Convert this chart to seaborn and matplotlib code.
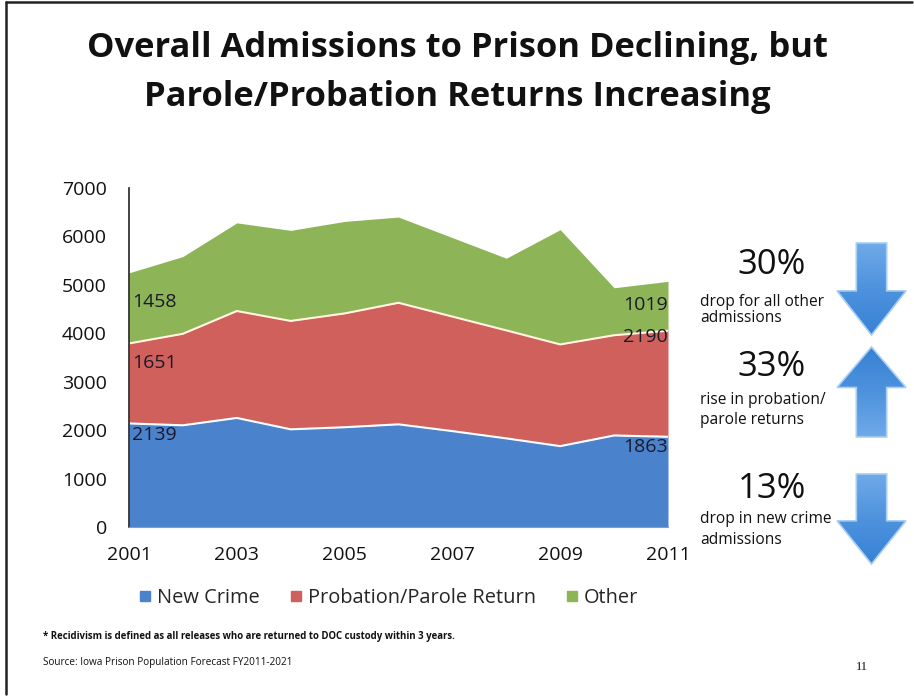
import matplotlib
matplotlib.use("Agg")
import matplotlib.pyplot as plt
import seaborn as sns
import pandas as pd
import numpy as np
from matplotlib.patches import Polygon
from matplotlib.lines import Line2D
from matplotlib.colors import LinearSegmentedColormap

years = [2001, 2002, 2003, 2004, 2005, 2006, 2007, 2008, 2009, 2010, 2011]
new_crime = [2139, 2100, 2252, 2017, 2060, 2120, 1980, 1830, 1670, 1890, 1863]
parole_return = [1651, 1890, 2208, 2238, 2350, 2510, 2365, 2230, 2100, 2070, 2190]
other = [1458, 1595, 1820, 1870, 1900, 1770, 1630, 1490, 2370, 980, 1019]
series_names = ["New Crime", "Probation/Parole Return", "Other"]
colors = ["#4A82CC", "#D0605C", "#8DB457"]
x_ticks = [2001, 2003, 2005, 2007, 2009, 2011]
y_ticks = [0, 1000, 2000, 3000, 4000, 5000, 6000, 7000]

sns.set_theme(style="white")
plt.rcParams['font.family'] = ['Open Sans', 'DejaVu Sans']

df = pd.DataFrame({"year": years, "New Crime": new_crime,
                   "Probation/Parole Return": parole_return, "Other": other})

W, H = 914, 696
def fx(px):
    return px / W
def fy(py):
    return 1 - py / H

fig = plt.figure(figsize=(9.14, 6.96), dpi=100)
ax = fig.add_axes([fx(129), fy(527), (668 - 129) / W, (527 - 188) / H])

ax.stackplot(df["year"], df["New Crime"], df["Probation/Parole Return"], df["Other"],
             colors=colors, linewidth=0)
cum1 = df["New Crime"]
cum2 = cum1 + df["Probation/Parole Return"]
sns.lineplot(x=df["year"], y=cum1, ax=ax, color="white", linewidth=1.5)
sns.lineplot(x=df["year"], y=cum2, ax=ax, color="#FFF5E0", linewidth=1.5)

ax.set_xlim(2001, 2011)
ax.set_ylim(0, 7000)
ax.set_xticks(x_ticks)
ax.set_yticks(y_ticks)
ax.set_xlabel("")
ax.set_ylabel("")
ax.tick_params(axis='both', labelsize=14, colors="#111111", length=0)
ax.tick_params(axis='y', pad=16)
ax.tick_params(axis='x', pad=14)
for s in ["top", "right"]:
    ax.spines[s].set_visible(False)
ax.spines["left"].set_color("#222222")
ax.spines["left"].set_linewidth(1.2)
ax.spines["bottom"].set_color("#999999")
ax.spines["bottom"].set_linewidth(0.8)

lab_kw = dict(fontsize=14, color="#1a1a2a")
ax.text(2001.06, new_crime[0] - 230, f"{new_crime[0]}", va="center", ha="left", **lab_kw)
ax.text(2001.06, new_crime[0] + parole_return[0] - 400, f"{parole_return[0]}", va="center", ha="left", **lab_kw)
ax.text(2001.06, new_crime[0] + parole_return[0] + other[0] - 600, f"{other[0]}", va="center", ha="left", **lab_kw)
ax.text(2011.0, new_crime[-1] - 220, f"{new_crime[-1]}", va="center", ha="right", **lab_kw)
ax.text(2011.0, new_crime[-1] + parole_return[-1] - 130, f"{parole_return[-1]}", va="center", ha="right", **lab_kw)
ax.text(2011.0, new_crime[-1] + parole_return[-1] + other[-1] - 480, f"{other[-1]}", va="center", ha="right", **lab_kw)

# Title
fig.text(0.5, fy(48), "Overall Admissions to Prison Declining, but", ha="center", va="center",
         fontsize=24.8, fontweight="bold", color="#111111")
fig.text(0.5, fy(97), "Parole/Probation Returns Increasing", ha="center", va="center",
         fontsize=24.8, fontweight="bold", color="#111111")

# Legend
handles = [Line2D([0], [0], marker="s", linestyle="", markersize=7, markerfacecolor=c,
                  markeredgecolor=c) for c in colors]
fig.legend(handles, series_names, loc="center", bbox_to_anchor=(fx(386), fy(598)), ncol=3,
           frameon=False, fontsize=14.4, handletextpad=0.0, columnspacing=1.2,
           handlelength=1.2)

# Right annotations with gradient arrows (lighter shaft, darker head)
grad = np.linspace(0, 1, 256).reshape(-1, 1)
cmap = LinearSegmentedColormap.from_list("arr", ["#6FAAE8", "#4E92DD", "#3782D5"])

def arrow(x0, y0, x1, y1, up):
    w = x1 - x0
    sx0 = x0 + w * 0.28
    sx1 = x1 - w * 0.28
    if not up:
        head = y0 + (y1 - y0) * 0.52
        pts = [(sx0, y0), (sx1, y0), (sx1, head), (x1, head), ((x0 + x1) / 2, y1),
               (x0, head), (sx0, head)]
    else:
        head = y0 + (y1 - y0) * 0.45
        pts = [(sx0, y1), (sx1, y1), (sx1, head), (x1, head), ((x0 + x1) / 2, y0),
               (x0, head), (sx0, head)]
    pts = [(fx(px), fy(py)) for px, py in pts]
    poly = Polygon(pts, closed=True, transform=fig.transFigure,
                   facecolor="none", edgecolor="#A8CEF2", linewidth=1.2)
    fig.patches.append(poly)
    gax = fig.add_axes([fx(x0), fy(y1), w / W, (y1 - y0) / H])
    gax.set_axis_off()
    im = gax.imshow(grad if not up else grad[::-1], aspect="auto", cmap=cmap,
                    extent=[0, 1, 0, 1])
    clip = Polygon(pts, closed=True, transform=fig.transFigure)
    im.set_clip_path(clip)

arrow(837, 243, 906, 335, up=False)
arrow(837, 347, 906, 437, up=True)
arrow(837, 474, 906, 564, up=False)

big_texts = [("30%", 265), ("33%", 367), ("13%", 489)]
small_lines = [("drop for all other", 302), ("admissions", 318),
               ("rise in probation/", 400), ("parole returns", 420),
               ("drop in new crime", 519), ("admissions", 540)]
for t, yb in big_texts:
    fig.text(fx(772), fy(yb), t, ha="center", va="center", fontsize=25, color="#111111")
for t, ys in small_lines:
    fig.text(fx(700), fy(ys), t, ha="left", va="center", fontsize=11.2, color="#111111")

# Footnotes
fig.text(fx(43), fy(637), "* Recidivism is defined as all releases who are returned to DOC custody within 3 years.",
         ha="left", va="center", fontsize=6.9, fontweight="bold", color="#111111")
fig.text(fx(43), fy(662), "Source: Iowa Prison Population Forecast FY2011-2021",
         ha="left", va="center", fontsize=7.2, color="#111111")
fig.text(fx(862), fy(667), "11", ha="center", va="center", fontsize=9, color="#111111",
         family=["Liberation Serif", "DejaVu Serif"])

# Slide frame (left and top edges)
fig.add_artist(Line2D([fx(6), fx(6)], [fy(2), fy(694)], transform=fig.transFigure,
                      color="#222222", linewidth=1.8))
fig.add_artist(Line2D([fx(6), fx(912)], [fy(2), fy(2)], transform=fig.transFigure,
                      color="#222222", linewidth=1.8))

fig.savefig("out.png", dpi=100, facecolor="white")
